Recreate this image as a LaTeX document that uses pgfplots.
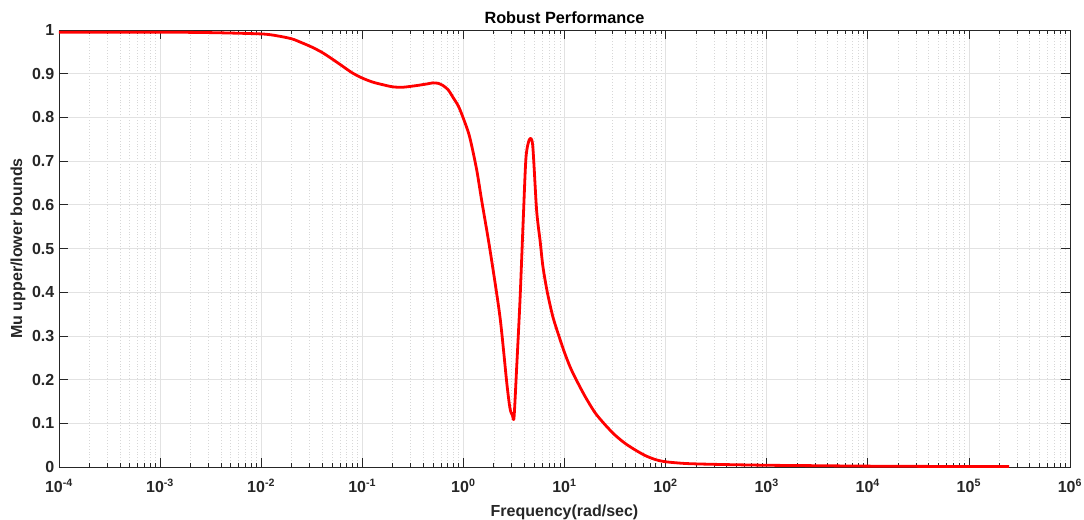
\documentclass[border=0pt]{standalone}
\usepackage{fontspec}
\setmainfont{Liberation Sans}
\usepackage{pgfplots}
\pgfplotsset{compat=1.18}
\definecolor{axgray}{RGB}{38,38,38}
\definecolor{gridgray}{RGB}{226,226,226}
\definecolor{mgridgray}{RGB}{215,215,215}

\begin{document}
\begin{tikzpicture}
\begin{axis}[
  name=ax,
  scale only axis,
  width=758.25pt, height=327.75pt,
  xmode=log,
  xmin=1e-4, xmax=1e6,
  ymin=0, ymax=1,
  xtick={1e-4,1e-3,1e-2,1e-1,1e0,1e1,1e2,1e3,1e4,1e5,1e6},
  xticklabels={10\textsuperscript{-4},10\textsuperscript{-3},10\textsuperscript{-2},10\textsuperscript{-1},10\textsuperscript{0},10\textsuperscript{1},10\textsuperscript{2},10\textsuperscript{3},10\textsuperscript{4},10\textsuperscript{5},10\textsuperscript{6}},
  minor xtick={2e-4,3e-4,4e-4,5e-4,6e-4,7e-4,8e-4,9e-4,
    2e-3,3e-3,4e-3,5e-3,6e-3,7e-3,8e-3,9e-3,
    2e-2,3e-2,4e-2,5e-2,6e-2,7e-2,8e-2,9e-2,
    2e-1,3e-1,4e-1,5e-1,6e-1,7e-1,8e-1,9e-1,
    2,3,4,5,6,7,8,9,
    20,30,40,50,60,70,80,90,
    200,300,400,500,600,700,800,900,
    2e3,3e3,4e3,5e3,6e3,7e3,8e3,9e3,
    2e4,3e4,4e4,5e4,6e4,7e4,8e4,9e4,
    2e5,3e5,4e5,5e5,6e5,7e5,8e5,9e5},
  ytick={0,0.1,0.2,0.3,0.4,0.5,0.6,0.7,0.8,0.9,1},
  yticklabels={0,0.1,0.2,0.3,0.4,0.5,0.6,0.7,0.8,0.9,1},
  tick align=inside,
  major tick length=6.5pt,
  minor tick length=3.2pt,
  tick style={axgray, line width=0.5pt},
  axis line style={axgray, line width=0.6pt},
  xmajorgrids, xminorgrids, ymajorgrids,
  major grid style={gridgray, line width=0.5pt},
  minor grid style={mgridgray, dash pattern=on 0.6pt off 1.6pt, line width=0.45pt},
  ticklabel style={font=\fontsize{12}{14}\selectfont\bfseries, text=axgray},
  xticklabel style={yshift=-5.5pt},
  title={Robust Performance},
  title style={font=\fontsize{12.2}{14}\selectfont\bfseries, text=black, at={(axis description cs:0.5,1.0275)}, anchor=center, yshift=-6pt},
  xlabel={Frequency(rad/sec)},
  xlabel style={font=\fontsize{12}{14}\selectfont\bfseries, text=axgray, at={(axis description cs:0.5,-0.0984)}, anchor=center, yshift=-1.5pt},
  ylabel={Mu upper/lower bounds},
  ylabel style={font=\fontsize{12}{14}\selectfont\bfseries, text=axgray, at={(axis description cs:-0.0405,0.5)}, anchor=center, rotate=0},
]
\addplot[red, line width=2.1pt, line join=round, smooth, tension=0.45] coordinates {
(1e-4,0.995) (1e-3,0.995) (0.003162,0.994) (0.01,0.991) (0.014125,0.987)
(0.01995,0.980) (0.02512,0.971) (0.03162,0.961) (0.03981,0.949)
(0.05012,0.934) (0.06310,0.918) (0.07943,0.902) (0.1,0.890)
(0.12589,0.881) (0.15849,0.875) (0.19953,0.870) (0.25119,0.869)
(0.347536,0.873) (0.446684,0.877) (0.500035,0.879) (0.562341,0.878)
(0.628058,0.873) (0.707946,0.863) (0.788860,0.846) (0.891251,0.826)
(0.990832,0.800) (1.148154,0.757) (1.348963,0.682) (1.513561,0.611)
(1.832314,0.497) (2.301442,0.343) (2.690000,0.191) (2.890680,0.134)
(3.054921,0.118) (3.169786,0.114) (3.365116,0.228) (3.630781,0.382)
(3.917379,0.572) (4.159106,0.708) (4.487454,0.749) (4.841724,0.737)
(5.296634,0.588) (5.754399,0.515) (6.123503,0.458) (6.7608,0.400)
(7.6913,0.343) (8.9125,0.296) (10,0.262) (11.220,0.232)
(12.589,0.207) (15.849,0.163) (19.953,0.125) (25.119,0.097)
(31.623,0.073) (39.811,0.054) (50.119,0.039) (63.096,0.026)
(79.433,0.017) (100,0.012) (158.49,0.008) (316.23,0.006)
(1000,0.004) (3162.3,0.003) (10000,0.002) (31623,0.0015)
(100000,0.001) (249459,0.001)
};
\end{axis}
\pgfresetboundingbox
\path[use as bounding box] ([shift={(-44.25pt,-39pt)}]ax.south west) rectangle ([shift={(10.5pt,22.5pt)}]ax.north east);
\end{tikzpicture}
\end{document}
